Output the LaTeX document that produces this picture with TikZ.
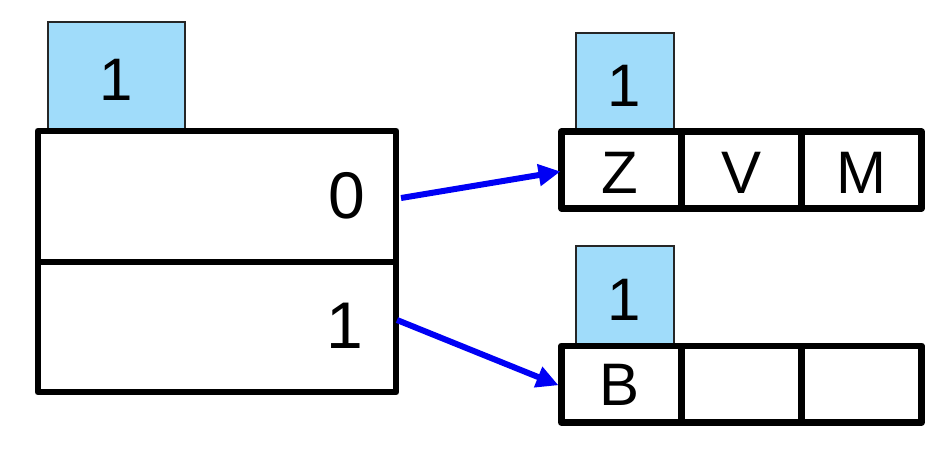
\documentclass[tikz,border=0pt]{standalone}
\usepackage{fontspec}
\setmainfont{Liberation Sans}
\usetikzlibrary{arrows.meta}
\definecolor{tabblue}{RGB}{160,220,250}
\definecolor{arrblue}{RGB}{0,0,245}
\tikzset{
  tab/.style={draw=black!85, line width=1.8pt, fill=tabblue, rectangle, inner sep=0pt, outer sep=0pt},
  cell/.style={draw=black, line width=6.8pt, fill=white, rectangle, inner sep=0pt, outer sep=0pt, line join=round},
  txt/.style={inner sep=0pt, font=\fontsize{60}{60}\selectfont},
  bigtxt/.style={inner sep=0pt, font=\fontsize{66}{66}\selectfont},
  ptr/.style={draw=arrblue, line width=6pt, -{Triangle[length=22pt,width=21pt]}}
}
\begin{document}
\begin{tikzpicture}[x=1pt,y=-1pt]
\useasboundingbox (0,0) rectangle (950,450);
% left structure
\node[tab, minimum width=137pt, minimum height=109pt, anchor=north west] (tabL) at (48,22) {};
\node[txt] (tabLt) at (116,80) {1};
\node[cell, minimum width=358pt, minimum height=131pt, anchor=north west] (c0) at (38,131) {};
\node[cell, minimum width=358pt, minimum height=130pt, anchor=north west] (c1) at (38,262) {};
\node[bigtxt] (c0t) at (347,196) {0};
\node[bigtxt] (c1t) at (345,326) {1};
% top-right array
\node[tab, minimum width=98pt, minimum height=98pt, anchor=north west] (tabA) at (576,33) {};
\node[txt] (tabAt) at (624,86) {1};
\node[cell, minimum width=120pt, minimum height=76.5pt, anchor=north west] (a0) at (561.5,131.7) {};
\node[cell, minimum width=120pt, minimum height=76.5pt, anchor=north west] (a1) at (681.5,131.7) {};
\node[cell, minimum width=120pt, minimum height=76.5pt, anchor=north west] (a2) at (801.5,131.7) {};
\node[txt] (a0t) at (620,173) {Z};
\node[txt] (a1t) at (741,173) {V};
\node[txt] (a2t) at (861,173) {M};
% bottom-right array
\node[tab, minimum width=98pt, minimum height=100pt, anchor=north west] (tabB) at (576,246) {};
\node[txt] (tabBt) at (624,300) {1};
\node[cell, minimum width=120pt, minimum height=76.5pt, anchor=north west] (b0) at (561.5,346) {};
\node[cell, minimum width=120pt, minimum height=76.5pt, anchor=north west] (b1) at (681.5,346) {};
\node[cell, minimum width=120pt, minimum height=76.5pt, anchor=north west] (b2) at (801.5,346) {};
\node[txt] (b0t) at (620,385) {B};
% pointers
\draw[ptr] ([xshift=5pt,yshift=-1.5pt]c0.east) -- ([xshift=-1pt,yshift=-1.5pt]a0.west);
\draw[ptr] ([xshift=1pt,yshift=7pt]c1.east) -- ([xshift=-3pt,yshift=-1pt]b0.west);
\end{tikzpicture}
\end{document}
